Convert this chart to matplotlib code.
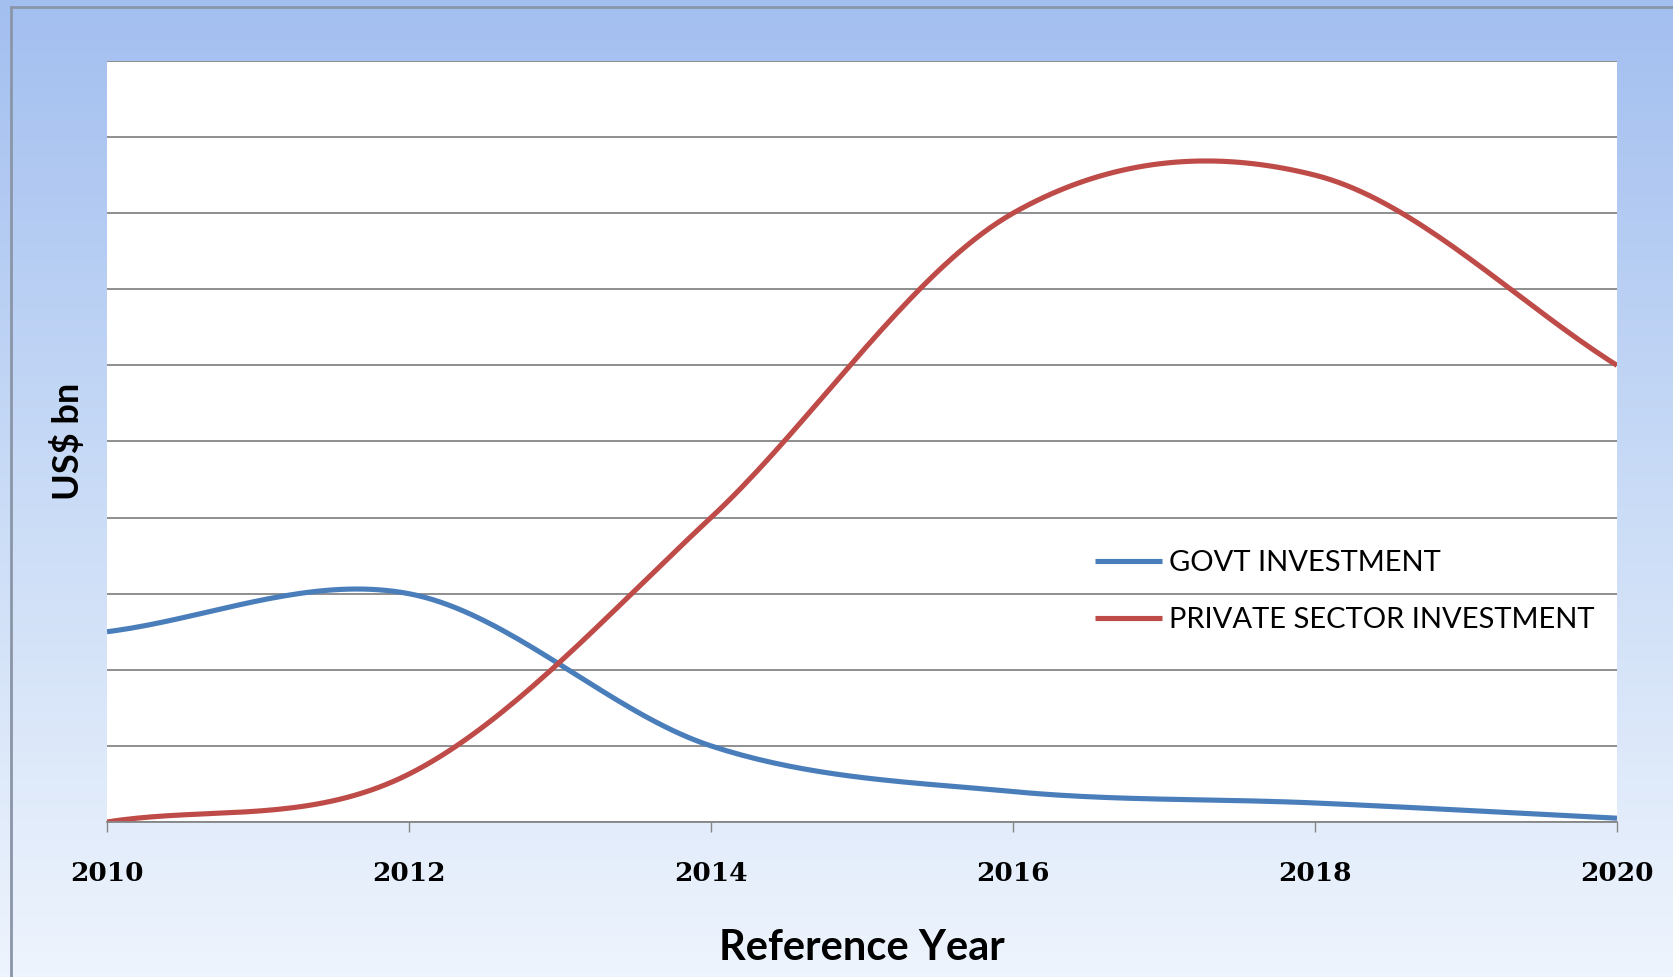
import numpy as np
import matplotlib
matplotlib.use("Agg")
import matplotlib.pyplot as plt
from matplotlib.colors import LinearSegmentedColormap

years = [2010, 2012, 2014, 2016, 2018, 2020]
govt = [2.5, 3.0, 1.0, 0.4, 0.25, 0.05]
private = [0.0, 0.63, 4.0, 8.0, 8.5, 6.0]
series_names = ["GOVT INVESTMENT", "PRIVATE SECTOR INVESTMENT"]
x_ticks = [2010, 2012, 2014, 2016, 2018, 2020]


def smooth(x, y, n=40):
    # Excel-style smoothed line (Catmull-Rom through the points)
    x = np.asarray(x, float)
    y = np.asarray(y, float)
    px = np.concatenate([[2 * x[0] - x[1]], x, [2 * x[-1] - x[-2]]])
    py = np.concatenate([[y[0] - (y[1] - y[0])], y, [y[-1] + (y[-1] - y[-2])]])
    xs, ys = [], []
    for i in range(1, len(px) - 2):
        t = np.linspace(0, 1, n)
        h00 = 2 * t**3 - 3 * t**2 + 1
        h10 = t**3 - 2 * t**2 + t
        h01 = -2 * t**3 + 3 * t**2
        h11 = t**3 - t**2
        mx0, mx1 = (px[i + 1] - px[i - 1]) / 2, (px[i + 2] - px[i]) / 2
        my0, my1 = (py[i + 1] - py[i - 1]) / 2, (py[i + 2] - py[i]) / 2
        xs.append(h00 * px[i] + h10 * mx0 + h01 * px[i + 1] + h11 * mx1)
        ys.append(h00 * py[i] + h10 * my0 + h01 * py[i + 1] + h11 * my1)
    return np.concatenate(xs), np.concatenate(ys)


W, H = 1674, 977
fig = plt.figure(figsize=(W / 100, H / 100), dpi=100)

# gradient background
bg = fig.add_axes([0, 0, 1, 1], zorder=-10)
cmap = LinearSegmentedColormap.from_list("bg", ["#a3bff0", "#c9dbf6", "#eef4fd"])
bg.imshow(np.linspace(0, 1, 256).reshape(-1, 1), aspect="auto", cmap=cmap,
          extent=[0, 1, 0, 1], origin="upper")
bg.plot([11 / W, 11 / W], [0, 1 - 7 / H], color="#8a96a8", lw=2)
bg.plot([11 / W, 1], [1 - 7 / H, 1 - 7 / H], color="#8a96a8", lw=2)
bg.set_xlim(0, 1)
bg.set_ylim(0, 1)
bg.axis("off")

left, right, top, bottom = 107, 1617, 61, 822
ax = fig.add_axes([left / W, 1 - bottom / H, (right - left) / W, (bottom - top) / H])
ax.set_facecolor("white")

xs, ys = smooth(years, govt)
ax.plot(xs, ys, color="#4a7ebb", lw=3.7, label=series_names[0], solid_capstyle="butt")
xs, ys = smooth(years, private)
ax.plot(xs, ys, color="#be4b48", lw=3.7, label=series_names[1], solid_capstyle="butt")

ax.set_xlim(2010, 2020)
ax.set_ylim(0, 10)
ax.set_yticks(np.arange(0, 11, 1))
ax.set_yticklabels([])
ax.tick_params(axis="y", length=0)
ax.grid(axis="y", color="#868686", lw=1.3)
ax.set_axisbelow(True)
ax.set_xticks(x_ticks)
ax.set_xticklabels([str(t) for t in x_ticks], fontfamily="DejaVu Serif",
                   fontweight="bold", fontsize=19)
ax.tick_params(axis="x", length=7, width=1, color="#868686", direction="out", pad=21)
for s in ["top", "right", "left"]:
    ax.spines[s].set_visible(False)
ax.spines["bottom"].set_color("#868686")
ax.spines["bottom"].set_linewidth(1.3)

ax.set_xlabel("Reference Year", fontfamily="Lato", fontweight="bold", fontsize=30, labelpad=31)
ax.set_ylabel("US$ bn", fontfamily="Lato", fontweight="bold", fontsize=26, labelpad=12)

leg = ax.legend(loc="center left", bbox_to_anchor=(0.654, 0.303), frameon=False,
                prop={"family": "Lato", "size": 21}, handlelength=2.3,
                handletextpad=0.26, labelspacing=1.05, borderpad=0, borderaxespad=0)
plt.savefig("out.png", dpi=100)
